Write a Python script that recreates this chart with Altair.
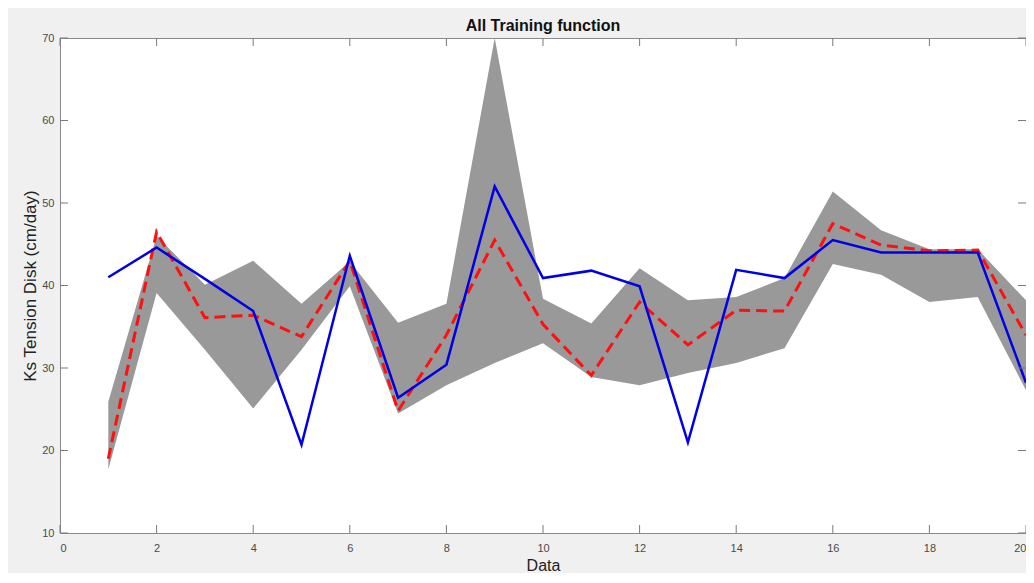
import altair as alt
import pandas as pd

# ---- data ----
data_x = list(range(1, 21))
band_upper = [25.9, 46.0, 40.1, 43.0, 37.8, 42.9, 35.5, 37.8, 70.0, 38.4,
              35.4, 42.1, 38.2, 38.6, 40.9, 51.4, 46.7, 44.4, 44.4, 38.2]
band_lower = [17.7, 39.1, 32.2, 25.1, 32.2, 39.9, 24.5, 27.9, 30.6, 33.0,
              28.9, 27.9, 29.4, 30.6, 32.4, 42.6, 41.3, 38.0, 38.6, 27.3]
red_series = [19.0, 46.5, 36.1, 36.4, 33.8, 43.0, 24.8, 34.0, 45.5, 35.3,
              29.1, 38.0, 32.8, 37.0, 36.9, 47.5, 44.9, 44.2, 44.3, 34.0]
blue_series = [41.0, 44.6, 40.8, 36.9, 20.7, 43.6, 26.4, 30.4, 52.0, 40.9,
               41.8, 39.9, 21.0, 41.9, 40.9, 45.5, 44.0, 44.0, 44.0, 28.2]
x_ticks = [0, 2, 4, 6, 8, 10, 12, 14, 16, 18, 20]
y_ticks = [10, 20, 30, 40, 50, 60, 70]

df = pd.DataFrame({"x": data_x, "lower": band_lower, "upper": band_upper,
                   "red": red_series, "blue": blue_series})
xt = pd.DataFrame({"x": x_ticks})
yt = pd.DataFrame({"y": y_ticks})

W, H = 966, 495
FONT = "Liberation Sans"

xscale = alt.Scale(domain=[0, 20], nice=False, zero=False)
yscale = alt.Scale(domain=[10, 70], nice=False, zero=False)
xaxis = alt.Axis(values=x_ticks, ticks=False, domain=False, grid=False,
                 labelPadding=9, labelFontSize=11, labelColor="#4a4a4a",
                 titleFontSize=16, titleFontWeight="normal", titleColor="#222222",
                 titlePadding=4, labelFont=FONT, titleFont=FONT)
yaxis = alt.Axis(values=y_ticks, ticks=False, domain=False, grid=False,
                 labelPadding=6, labelFontSize=11, labelColor="#4a4a4a",
                 titleFontSize=17, titleFontWeight="normal", titleColor="#222222",
                 titlePadding=2, labelFont=FONT, titleFont=FONT)

XT = "Data"
YT = "Ks Tension Disk (cm/day)"

base = alt.Chart(df)

band = base.mark_area(color="#999999", opacity=1).encode(
    x=alt.X("x:Q", scale=xscale, axis=xaxis, title=XT),
    y=alt.Y("lower:Q", scale=yscale, axis=yaxis, title=YT),
    y2="upper:Q",
)

red = base.mark_line(color="#ff1010", strokeWidth=3, strokeDash=[11, 6]).encode(
    x=alt.X("x:Q", scale=xscale, axis=xaxis, title=XT),
    y=alt.Y("red:Q", scale=yscale, axis=yaxis, title=YT),
)

blue = base.mark_line(color="#0000e6", strokeWidth=2.5).encode(
    x=alt.X("x:Q", scale=xscale, axis=xaxis, title=XT),
    y=alt.Y("blue:Q", scale=yscale, axis=yaxis, title=YT),
)

tick_col = "#7a7a7a"
xt_bottom = alt.Chart(xt).mark_rule(color=tick_col, strokeWidth=1).encode(
    x=alt.X("x:Q", scale=xscale, axis=xaxis, title=XT),
    y=alt.value(H), y2=alt.value(H - 8))
xt_top = alt.Chart(xt).mark_rule(color=tick_col, strokeWidth=1).encode(
    x=alt.X("x:Q", scale=xscale, axis=xaxis, title=XT),
    y=alt.value(0), y2=alt.value(8))
yt_left = alt.Chart(yt).mark_rule(color=tick_col, strokeWidth=1).encode(
    y=alt.Y("y:Q", scale=yscale, axis=yaxis, title=YT),
    x=alt.value(0), x2=alt.value(8))
yt_right = alt.Chart(yt).mark_rule(color=tick_col, strokeWidth=1).encode(
    y=alt.Y("y:Q", scale=yscale, axis=yaxis, title=YT),
    x=alt.value(W), x2=alt.value(W - 8))

chart = alt.layer(band, red, blue, xt_bottom, xt_top, yt_left, yt_right).properties(
    width=W, height=H,
    title=alt.TitleParams("All Training function", fontSize=16, fontWeight="bold",
                          font=FONT, color="#111111", anchor="middle", offset=3, dy=5),
    background="#f0f0f0",
    padding={"left": 52, "top": 30, "right": 0, "bottom": 40},
    autosize=alt.AutoSizeParams(type="none"),
).configure_view(
    stroke="#8a8a8a", strokeWidth=1, fill="white"
)

chart.save("out.html", embed_options={"renderer": "svg", "actions": False})
